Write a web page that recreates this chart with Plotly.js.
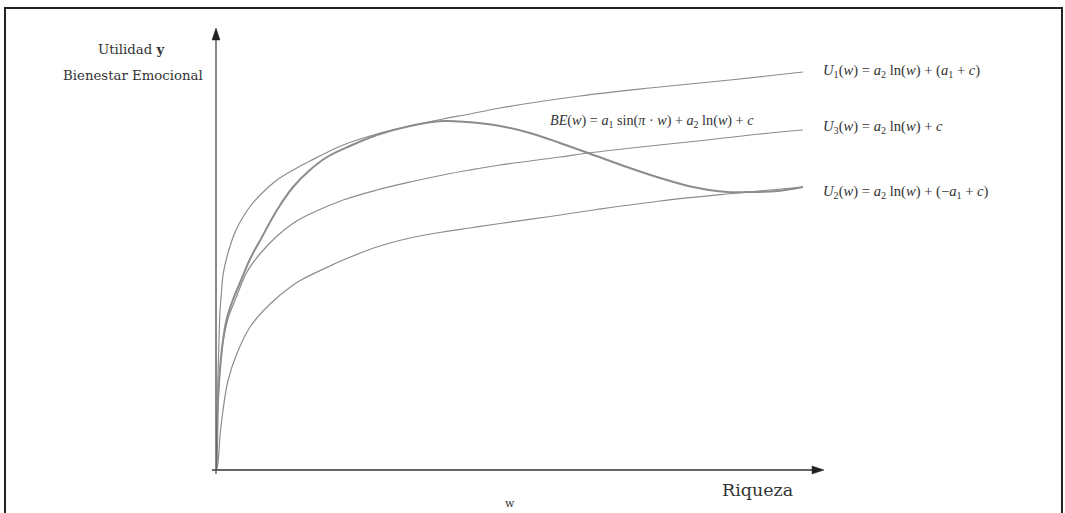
<!DOCTYPE html>
<html>
<head>
<meta charset="utf-8">
<script src="https://cdn.plot.ly/plotly-3.0.1.min.js"></script>
<style>html,body{margin:0;padding:0;background:#fff;}#chart{width:1065px;height:513px;}</style>
</head>
<body>
<div id="chart"></div>
<script>
// Data (x = riqueza w, y = utilidad, arbitrary units)
var u1X = [0.001,0.003,0.005,0.008,0.010,0.013,0.018,0.026,0.036,0.049,0.069,0.092,0.118,0.156,0.202,0.240,0.325,0.411,0.496,0.580,0.649,0.726,0.930,1.109,1.314,1.500];
var u1Y = [0.00,0.35,0.95,1.35,1.58,1.73,1.95,2.10,2.24,2.38,2.53,2.66,2.77,2.90,3.01,3.09,3.25,3.36,3.44,3.51,3.56,3.62,3.74,3.82,3.90,3.98];

var beX = [0.001,0.003,0.005,0.010,0.018,0.028,0.043,0.061,0.087,0.112,0.156,0.197,0.240,0.284,0.342,0.411,0.496,0.580,0.641,0.726,0.802,0.879,0.951,1.050,1.135,1.219,1.306,1.357,1.434,1.500];
var beY = [0.00,0.30,0.67,1.00,1.30,1.52,1.70,1.87,2.11,2.29,2.60,2.83,3.00,3.13,3.24,3.35,3.44,3.49,3.48,3.44,3.37,3.27,3.17,3.03,2.92,2.83,2.78,2.78,2.79,2.83];

var u3X = [0.001,0.003,0.005,0.010,0.018,0.031,0.049,0.079,0.112,0.156,0.202,0.240,0.325,0.411,0.496,0.580,0.649,0.726,0.879,0.951,1.109,1.255,1.390,1.500];
var u3Y = [0.00,0.30,0.67,0.98,1.28,1.52,1.70,1.98,2.16,2.34,2.48,2.56,2.70,2.80,2.88,2.95,3.00,3.05,3.13,3.17,3.24,3.30,3.36,3.40];

var u2X = [0.001,0.005,0.010,0.018,0.031,0.054,0.087,0.138,0.197,0.222,0.291,0.325,0.411,0.496,0.580,0.649,0.726,0.854,0.974,1.135,1.306,1.416,1.500];
var u2Y = [0.00,0.07,0.33,0.60,0.90,1.17,1.43,1.66,1.85,1.91,2.04,2.10,2.23,2.32,2.38,2.42,2.465,2.535,2.605,2.69,2.76,2.80,2.83];

var seriesNames = ['U1','BE','U3','U2'];
var labelU1 = '<i>U</i><sub>1</sub>(<i>w</i>) = <i>a</i><sub>2</sub> ln(<i>w</i>) + (<i>a</i><sub>1</sub> + <i>c</i>)';
var labelU3 = '<i>U</i><sub>3</sub>(<i>w</i>) = <i>a</i><sub>2</sub> ln(<i>w</i>) + <i>c</i>';
var labelU2 = '<i>U</i><sub>2</sub>(<i>w</i>) = <i>a</i><sub>2</sub> ln(<i>w</i>) + (&#8722;<i>a</i><sub>1</sub> + <i>c</i>)';
var labelBE = '<i>BE</i>(<i>w</i>) = <i>a</i><sub>1</sub> sin(<i>&#960;</i> · <i>w</i>) + <i>a</i><sub>2</sub> ln(<i>w</i>) + <i>c</i>';
var yTitle1 = 'Utilidad <b>y</b>';
var yTitle2 = 'Bienestar Emocional';
var xTitle = 'Riqueza';
var xSub = 'w';

// Layout geometry (pixels)
var W = 1065, H = 513;
var mL = 216, mR = 242, mT = 30, mB = 43;
var plotW = W - mL - mR, plotH = H - mT - mB;
var xMax = 1.5513, yMax = 4.4;
function px(x){ return (x - mL) / plotW; }
function py(y){ return (H - mB - y) / plotH; }

var curveColor = '#8c8c8c';
function tr(x, y, name, w){
  return {x:x, y:y, name:name, type:'scatter', mode:'lines', cliponaxis:false,
    line:{color:curveColor, width:w, shape:'spline', smoothing:1.0}, hoverinfo:'skip'};
}
var data = [tr(u1X,u1Y,seriesNames[0],1.2), tr(u3X,u3Y,seriesNames[2],1.2), tr(u2X,u2Y,seriesNames[3],1.2), tr(beX,beY,seriesNames[1],2)];

var serif = 'DejaVu Serif, serif';
var math = 'Liberation Serif, Times New Roman, serif';
function txt(text, x, y, size, anchor, family){
  return {text:text, xref:'paper', yref:'paper', x:px(x), y:py(y), xanchor:anchor, yanchor:'middle',
    showarrow:false, font:{family:family, size:size, color:'#333'}};
}
var annotations = [
  txt(yTitle1, 132, 50, 13.3, 'center', serif),
  txt(yTitle2, 133, 75, 13.3, 'center', serif),
  txt(labelU1, 821, 71, 14.6, 'left', math),
  txt(labelU3, 821, 127, 14.6, 'left', math),
  txt(labelU2, 821, 192, 14.6, 'left', math),
  txt(labelBE, 548, 121, 14.2, 'left', math),
  txt(xTitle, 757, 490, 17.5, 'center', serif),
  txt(xSub, 510, 503, 11, 'center', serif)
];

function P(x, y){ return px(x) + ',' + py(y); }
var shapes = [
  {type:'rect', xref:'paper', yref:'paper', x0:px(5), x1:px(1062), y0:py(540), y1:py(8),
    line:{color:'#222', width:2}, fillcolor:'rgba(0,0,0,0)', layer:'above'},
  // x axis line and arrowhead
  {type:'line', xref:'paper', yref:'paper', x0:px(212), x1:px(814), y0:py(470), y1:py(470),
    line:{color:'#333', width:1.4}, layer:'above'},
  {type:'path', xref:'paper', yref:'paper', path:'M' + P(824,470) + ' L' + P(812,466) + ' L' + P(812,474) + ' Z',
    fillcolor:'#222', line:{color:'#222', width:0.5}, layer:'above'},
  // y axis line and arrowhead
  {type:'line', xref:'paper', yref:'paper', x0:px(216), x1:px(216), y0:py(474), y1:py(38),
    line:{color:'#555', width:1.4}, layer:'above'},
  {type:'path', xref:'paper', yref:'paper', path:'M' + P(216,28) + ' L' + P(212,40) + ' L' + P(220,40) + ' Z',
    fillcolor:'#222', line:{color:'#222', width:0.5}, layer:'above'}
];

var layout = {
  width:W, height:H, margin:{l:mL, r:mR, t:mT, b:mB, pad:0},
  paper_bgcolor:'#fff', plot_bgcolor:'#fff', showlegend:false,
  xaxis:{range:[0,xMax], visible:false, fixedrange:true},
  yaxis:{range:[0,yMax], visible:false, fixedrange:true},
  annotations:annotations, shapes:shapes
};
Plotly.newPlot('chart', data, layout, {staticPlot:true, displayModeBar:false});
</script>
</body>
</html>
